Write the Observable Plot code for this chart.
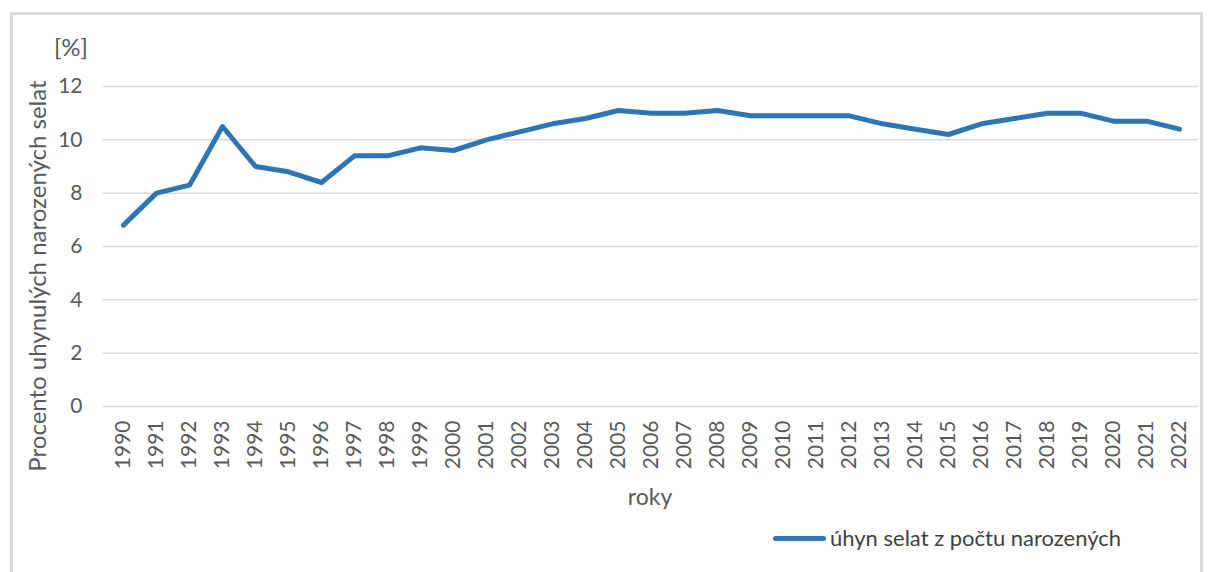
<!DOCTYPE html>
<html>
<head>
<meta charset="utf-8">
<script src="https://cdn.jsdelivr.net/npm/d3@7"></script>
<script src="https://cdn.jsdelivr.net/npm/@observablehq/plot@0.6"></script>
<style>
  html, body { margin: 0; padding: 0; background: #fff; }
  #wrap { position: relative; width: 1210px; height: 572px; overflow: hidden; font-family: Lato, "Open Sans", sans-serif; color: #595959; }
  #frame { position: absolute; left: 10px; top: 12px; width: 1193px; height: 600px; border: 3px solid #d9d9d9; box-sizing: border-box; }
  .lbl { position: absolute; white-space: nowrap; color: #595959; line-height: 1; }
  #ytitle { left: 37px; top: 276px; font-size: 24px; transform: translate(-50%, -50%) rotate(-90deg); }
  #unit { left: 54px; top: 35px; font-size: 24px; }
  #xtitle { left: 650px; top: 485px; font-size: 23px; transform: translateX(-50%); }
  #legend { position: absolute; left: 773px; top: 526px; display: flex; align-items: center; font-size: 22px; color: #404040; line-height: 1; height: 24px; }
  #legend .sw { width: 53px; height: 5px; background: #2e75b6; border-radius: 3px; margin-right: 4px; }
  #chart { position: absolute; left: 0; top: 0; }
</style>
</head>
<body>
<div id="wrap">
  <div id="frame"></div>
  <div id="chart"></div>
  <div class="lbl" id="unit">[%]</div>
  <div class="lbl" id="ytitle">Procento uhynulých narozených selat</div>
  <div class="lbl" id="xtitle">roky</div>
  <div id="legend"><div class="sw"></div><span id="legText"></span></div>
</div>
<script>
const years = ["1990","1991","1992","1993","1994","1995","1996","1997","1998","1999","2000","2001","2002","2003","2004","2005","2006","2007","2008","2009","2010","2011","2012","2013","2014","2015","2016","2017","2018","2019","2020","2021","2022"];
const mortality = [6.8,8.0,8.3,10.5,9.0,8.8,8.4,9.4,9.4,9.7,9.6,10.0,10.3,10.6,10.8,11.1,11.0,11.0,11.1,10.9,10.9,10.9,10.9,10.6,10.4,10.2,10.6,10.8,11.0,11.0,10.7,10.7,10.4];
const yTicks = [0,2,4,6,8,10,12];
const seriesName = "úhyn selat z počtu narozených";

document.getElementById("legText").textContent = seriesName;

const data = years.map((y, i) => ({year: y, value: mortality[i]}));

const chart = Plot.plot({
  width: 1210,
  height: 572,
  marginLeft: 103,
  marginRight: 12,
  marginTop: 86,
  marginBottom: 166,
  style: { background: "transparent", fontFamily: "Lato, 'Open Sans', sans-serif", color: "#595959" },
  x: { type: "point", domain: years, padding: 0.5, label: null },
  y: { domain: [0, 12], label: null },
  marks: [
    Plot.gridY(yTicks, { stroke: "#d9d9d9", strokeOpacity: 1, strokeWidth: 1.5 }),
    Plot.axisY(yTicks, { tickSize: 0, tickPadding: 21, fontSize: 21, fill: "#595959", label: null }),
    Plot.axisX({ tickSize: 0, tickPadding: 14, tickRotate: -90, fontSize: 21, fill: "#595959", label: null }),
    Plot.lineY(data, { x: "year", y: "value", stroke: "#2e75b6", strokeWidth: 5, strokeLinejoin: "round", strokeLinecap: "round" })
  ]
});
document.getElementById("chart").appendChild(chart);
</script>
</body>
</html>
